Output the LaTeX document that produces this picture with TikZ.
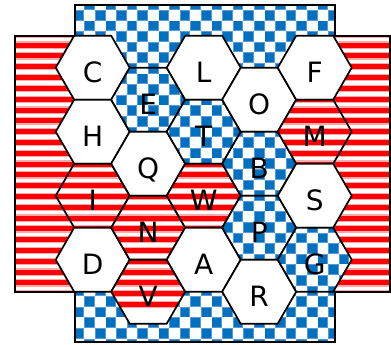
\documentclass[tikz,border=0pt]{standalone}
\usepackage{fontspec}
\setmainfont{DejaVu Sans}
\definecolor{hexblue}{RGB}{0,112,192}
\definecolor{hexlblue}{RGB}{90,155,215}
\definecolor{hexred}{RGB}{255,0,0}
\definecolor{hexpink}{RGB}{255,170,170}
\tikzset{
  hexline/.style={draw=black,line width=1.7pt,line join=round},
  outline/.style={draw=black,line width=1.7pt},
  letter/.style={font=\fontsize{28}{28}\selectfont,inner sep=0pt,text height=20.5pt,text depth=0pt,yshift=-4.5pt}
}
\newcommand\stripesin{%
  \foreach \k in {-1,...,24}{%
    \pgfmathsetmacro\sc{45.2+10.8*\k}%
    \fill[hexpink] (0,\sc-3.7) rectangle (391,\sc+3.7);
    \fill[hexred] (0,\sc-2.5) rectangle (391,\sc+2.5);
  }}
\newcommand\checkersin[4]{%
  \pgfmathtruncatemacro\ia{floor((#1-84.3)/10.6)}%
  \pgfmathtruncatemacro\ib{floor((#2-84.3)/10.6)}%
  \pgfmathtruncatemacro\ja{floor((#3-10)/10.6)}%
  \pgfmathtruncatemacro\jb{floor((#4-10)/10.6)}%
  \foreach \i in {\ia,...,\ib}{\foreach \j in {\ja,...,\jb}{%
     \pgfmathtruncatemacro\kk{\i+\j}%
     \ifodd\kk\relax
       \pgfmathsetmacro\xa{84.3+10.6*\i}\pgfmathsetmacro\ya{10+10.6*\j}%
       \fill[hexlblue] (\xa,\ya) rectangle ++(10.6,10.6);
       \fill[hexblue] (\xa+0.9,\ya+0.9) rectangle ++(8.8,8.8);
     \fi}}}
\newcommand\hexcell[4]{%
  \pgfmathsetmacro\cx{92.7+55.5*#1}%
  \pgfmathsetmacro\cy{67.7+64*#2+32*mod(#1,2)}%
  \begin{scope}
    \clip (\cx-37,\cy) -- (\cx-18.5,\cy-32) -- (\cx+18.5,\cy-32) -- (\cx+37,\cy) -- (\cx+18.5,\cy+32) -- (\cx-18.5,\cy+32) -- cycle;
    \fill[white] (\cx-38,\cy-33) rectangle (\cx+38,\cy+33);
    \if r#3 \stripesin\fi
    \if b#3 \checkersin{\cx-38}{\cx+38}{\cy-33}{\cy+33}\fi
  \end{scope}
  \draw[hexline] (\cx-37,\cy) -- (\cx-18.5,\cy-32) -- (\cx+18.5,\cy-32) -- (\cx+37,\cy) -- (\cx+18.5,\cy+32) -- (\cx-18.5,\cy+32) -- cycle;
  \node[letter] (#4) at (\cx,\cy) {#4};
}
\begin{document}
\begin{tikzpicture}[x=1pt,y=-1pt]
\useasboundingbox (0,0) rectangle (391,345);
% red striped side band
\begin{scope}
  \clip (15,35.7) rectangle (390,291.7);
  \fill[white] (15,35.7) rectangle (390,291.7);
  \stripesin
\end{scope}
% blue checkered top/bottom band
\begin{scope}
  \clip (75,5) rectangle (335,342);
  \fill[white] (75,5) rectangle (335,342);
  \checkersin{75}{335}{5}{342}
\end{scope}
\draw[outline] (75,5) -- (335,5) -- (335,35.7) -- (390,35.7) -- (390,291.7) -- (335,291.7) -- (335,342) -- (75,342) -- (75,291.7) -- (15,291.7) -- (15,35.7) -- (75,35.7) -- cycle;
% hexes: column, row, type (w white, r red, b blue), letter
\hexcell{0}{0}{w}{C}
\hexcell{0}{1}{w}{H}
\hexcell{0}{2}{r}{I}
\hexcell{0}{3}{w}{D}
\hexcell{1}{0}{b}{E}
\hexcell{1}{1}{w}{Q}
\hexcell{1}{2}{r}{N}
\hexcell{1}{3}{r}{V}
\hexcell{2}{0}{w}{L}
\hexcell{2}{1}{b}{T}
\hexcell{2}{2}{r}{W}
\hexcell{2}{3}{w}{A}
\hexcell{3}{0}{w}{O}
\hexcell{3}{1}{b}{B}
\hexcell{3}{2}{b}{P}
\hexcell{3}{3}{w}{R}
\hexcell{4}{0}{w}{F}
\hexcell{4}{1}{r}{M}
\hexcell{4}{2}{w}{S}
\hexcell{4}{3}{b}{G}
\end{tikzpicture}
\end{document}
